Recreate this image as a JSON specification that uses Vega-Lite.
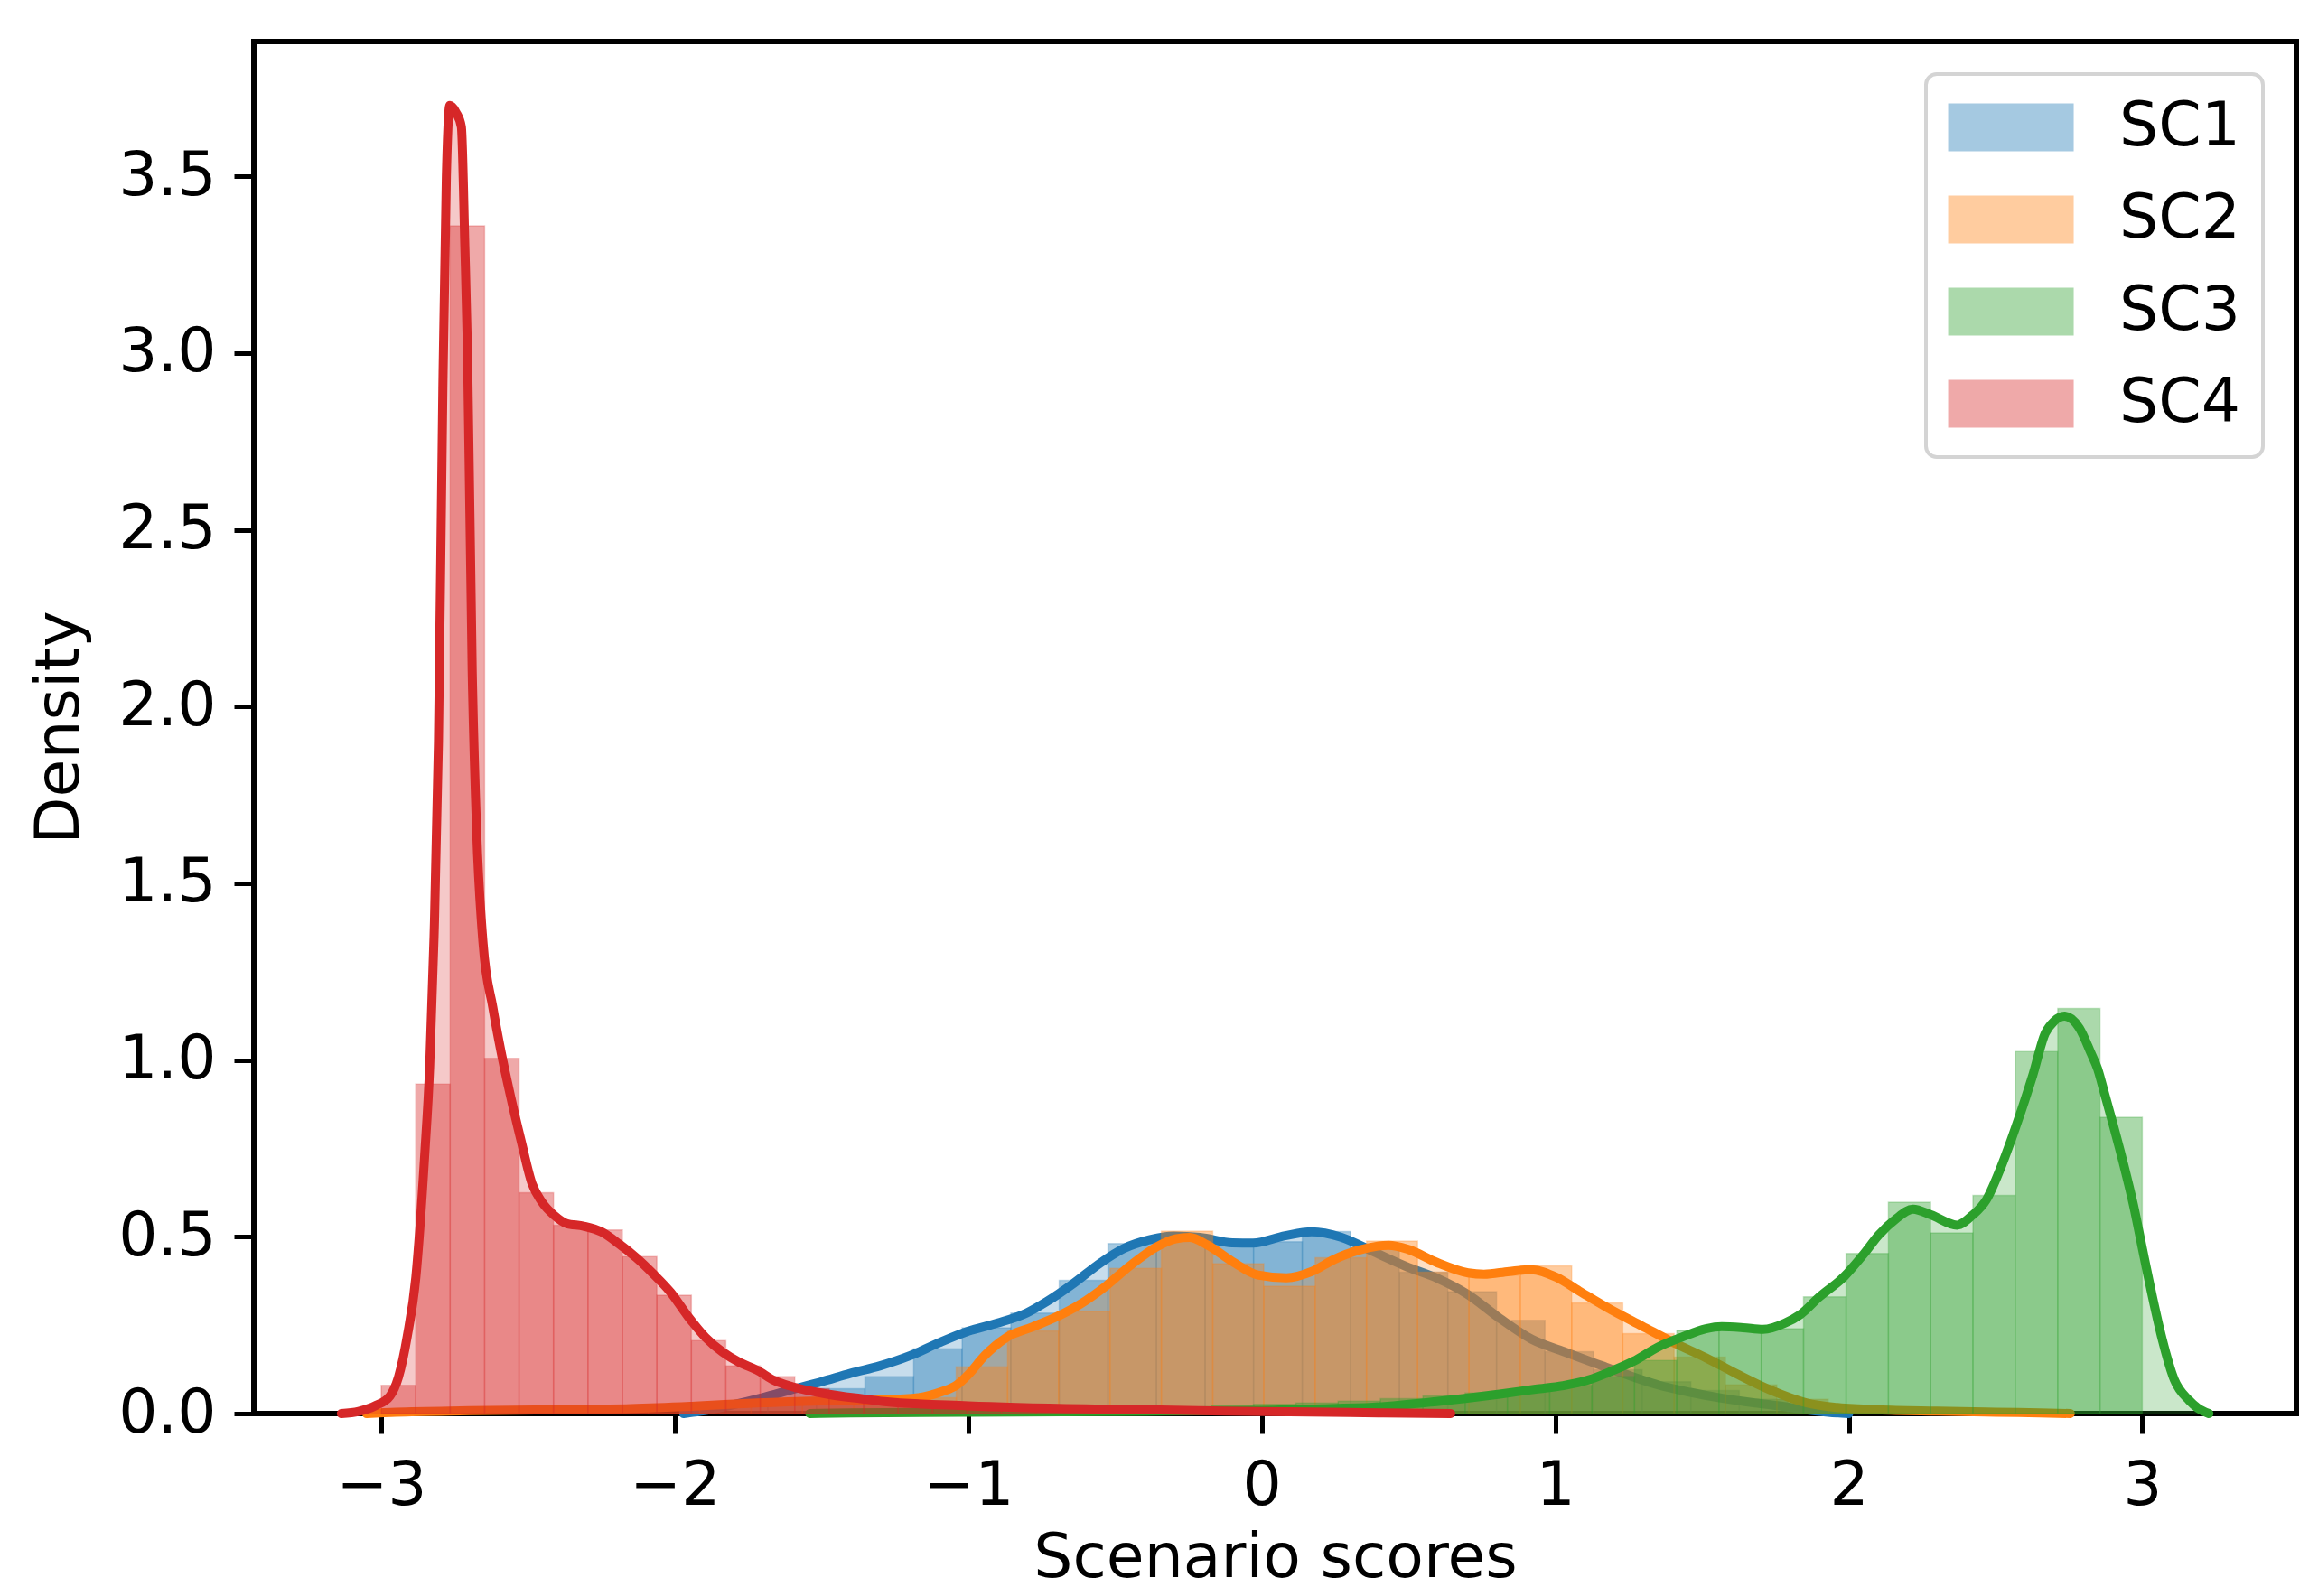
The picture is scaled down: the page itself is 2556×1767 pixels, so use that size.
{
  "$schema": "https://vega.github.io/schema/vega-lite/v6.json",
  "width": 2261,
  "height": 1519,
  "autosize": {"type": "none"},
  "padding": {"left": 281, "top": 46, "right": 14, "bottom": 202},
  "background": "white",
  "config": {
    "view": {"stroke": "black", "strokeWidth": 6},
    "axis": {"domain": false, "grid": false, "tickColor": "black", "tickWidth": 5, "tickSize": 22, "labelFont": "DejaVu Sans", "labelFontSize": 68, "labelColor": "black", "titleFont": "DejaVu Sans", "titleFontSize": 68, "titleFontWeight": "normal", "titleColor": "black"},
    "legend": {"labelFont": "DejaVu Sans", "labelFontSize": 68, "labelColor": "black", "symbolType": "M-1.3,-1H3.945V1H-1.3Z", "symbolSize": 2809, "symbolOpacity": 0.4, "symbolStrokeWidth": 0, "padding": 25, "rowPadding": 34, "labelOffset": 121, "strokeColor": "#d4d4d4", "strokeWidth": 4, "cornerRadius": 12, "fillColor": "white"}
  },
  "datasets": {
    "hist": [
      {"series": "SC1", "x0": -1.848, "x1": -1.683, "density": 0.02},
      {"series": "SC1", "x0": -1.683, "x1": -1.517, "density": 0.04},
      {"series": "SC1", "x0": -1.517, "x1": -1.352, "density": 0.07},
      {"series": "SC1", "x0": -1.352, "x1": -1.186, "density": 0.105},
      {"series": "SC1", "x0": -1.186, "x1": -1.021, "density": 0.183},
      {"series": "SC1", "x0": -1.021, "x1": -0.855, "density": 0.243},
      {"series": "SC1", "x0": -0.855, "x1": -0.69, "density": 0.284},
      {"series": "SC1", "x0": -0.69, "x1": -0.524, "density": 0.377},
      {"series": "SC1", "x0": -0.524, "x1": -0.359, "density": 0.481},
      {"series": "SC1", "x0": -0.359, "x1": -0.193, "density": 0.497},
      {"series": "SC1", "x0": -0.193, "x1": -0.028, "density": 0.484},
      {"series": "SC1", "x0": -0.028, "x1": 0.138, "density": 0.486},
      {"series": "SC1", "x0": 0.138, "x1": 0.303, "density": 0.515},
      {"series": "SC1", "x0": 0.303, "x1": 0.469, "density": 0.47},
      {"series": "SC1", "x0": 0.469, "x1": 0.634, "density": 0.4},
      {"series": "SC1", "x0": 0.634, "x1": 0.8, "density": 0.345},
      {"series": "SC1", "x0": 0.8, "x1": 0.965, "density": 0.264},
      {"series": "SC1", "x0": 0.965, "x1": 1.131, "density": 0.175},
      {"series": "SC1", "x0": 1.131, "x1": 1.296, "density": 0.124},
      {"series": "SC1", "x0": 1.296, "x1": 1.462, "density": 0.09},
      {"series": "SC1", "x0": 1.462, "x1": 1.627, "density": 0.065},
      {"series": "SC1", "x0": 1.627, "x1": 1.793, "density": 0.04},
      {"series": "SC1", "x0": 1.793, "x1": 1.958, "density": 0.02},

      {"series": "SC2", "x0": -2.964, "x1": -2.789, "density": 0.005},
      {"series": "SC2", "x0": -2.789, "x1": -2.614, "density": 0.008},
      {"series": "SC2", "x0": -2.614, "x1": -2.439, "density": 0.01},
      {"series": "SC2", "x0": -2.439, "x1": -2.264, "density": 0.012},
      {"series": "SC2", "x0": -2.264, "x1": -2.09, "density": 0.015},
      {"series": "SC2", "x0": -2.09, "x1": -1.915, "density": 0.018},
      {"series": "SC2", "x0": -1.915, "x1": -1.74, "density": 0.022},
      {"series": "SC2", "x0": -1.74, "x1": -1.565, "density": 0.027},
      {"series": "SC2", "x0": -1.565, "x1": -1.39, "density": 0.032},
      {"series": "SC2", "x0": -1.39, "x1": -1.216, "density": 0.036},
      {"series": "SC2", "x0": -1.216, "x1": -1.041, "density": 0.045},
      {"series": "SC2", "x0": -1.041, "x1": -0.866, "density": 0.132},
      {"series": "SC2", "x0": -0.866, "x1": -0.692, "density": 0.234},
      {"series": "SC2", "x0": -0.692, "x1": -0.517, "density": 0.288},
      {"series": "SC2", "x0": -0.517, "x1": -0.342, "density": 0.411},
      {"series": "SC2", "x0": -0.342, "x1": -0.167, "density": 0.516},
      {"series": "SC2", "x0": -0.167, "x1": 0.007, "density": 0.424},
      {"series": "SC2", "x0": 0.007, "x1": 0.182, "density": 0.36},
      {"series": "SC2", "x0": 0.182, "x1": 0.357, "density": 0.441},
      {"series": "SC2", "x0": 0.357, "x1": 0.531, "density": 0.488},
      {"series": "SC2", "x0": 0.531, "x1": 0.706, "density": 0.4},
      {"series": "SC2", "x0": 0.706, "x1": 0.881, "density": 0.39},
      {"series": "SC2", "x0": 0.881, "x1": 1.056, "density": 0.418},
      {"series": "SC2", "x0": 1.056, "x1": 1.23, "density": 0.313},
      {"series": "SC2", "x0": 1.23, "x1": 1.405, "density": 0.226},
      {"series": "SC2", "x0": 1.405, "x1": 1.58, "density": 0.16},
      {"series": "SC2", "x0": 1.58, "x1": 1.755, "density": 0.081},
      {"series": "SC2", "x0": 1.755, "x1": 1.93, "density": 0.04},
      {"series": "SC2", "x0": 1.93, "x1": 2.104, "density": 0.02},
      {"series": "SC2", "x0": 2.104, "x1": 2.279, "density": 0.012},
      {"series": "SC2", "x0": 2.279, "x1": 2.454, "density": 0.008},
      {"series": "SC2", "x0": 2.454, "x1": 2.629, "density": 0.005},

      {"series": "SC3", "x0": -1.326, "x1": -1.182, "density": 0.005},
      {"series": "SC3", "x0": -1.182, "x1": -1.038, "density": 0.005},
      {"series": "SC3", "x0": -1.038, "x1": -0.893, "density": 0.008},
      {"series": "SC3", "x0": -0.893, "x1": -0.749, "density": 0.008},
      {"series": "SC3", "x0": -0.749, "x1": -0.605, "density": 0.01},
      {"series": "SC3", "x0": -0.605, "x1": -0.461, "density": 0.012},
      {"series": "SC3", "x0": -0.461, "x1": -0.317, "density": 0.015},
      {"series": "SC3", "x0": -0.317, "x1": -0.172, "density": 0.018},
      {"series": "SC3", "x0": -0.172, "x1": -0.028, "density": 0.022},
      {"series": "SC3", "x0": -0.028, "x1": 0.116, "density": 0.026},
      {"series": "SC3", "x0": 0.116, "x1": 0.26, "density": 0.03},
      {"series": "SC3", "x0": 0.26, "x1": 0.404, "density": 0.035},
      {"series": "SC3", "x0": 0.404, "x1": 0.549, "density": 0.042},
      {"series": "SC3", "x0": 0.549, "x1": 0.693, "density": 0.05},
      {"series": "SC3", "x0": 0.693, "x1": 0.837, "density": 0.058},
      {"series": "SC3", "x0": 0.837, "x1": 0.981, "density": 0.068},
      {"series": "SC3", "x0": 0.981, "x1": 1.125, "density": 0.08},
      {"series": "SC3", "x0": 1.125, "x1": 1.27, "density": 0.105},
      {"series": "SC3", "x0": 1.27, "x1": 1.414, "density": 0.15},
      {"series": "SC3", "x0": 1.414, "x1": 1.558, "density": 0.235},
      {"series": "SC3", "x0": 1.558, "x1": 1.702, "density": 0.245},
      {"series": "SC3", "x0": 1.702, "x1": 1.846, "density": 0.24},
      {"series": "SC3", "x0": 1.846, "x1": 1.991, "density": 0.33},
      {"series": "SC3", "x0": 1.991, "x1": 2.135, "density": 0.453},
      {"series": "SC3", "x0": 2.135, "x1": 2.279, "density": 0.598},
      {"series": "SC3", "x0": 2.279, "x1": 2.423, "density": 0.511},
      {"series": "SC3", "x0": 2.423, "x1": 2.567, "density": 0.617},
      {"series": "SC3", "x0": 2.567, "x1": 2.712, "density": 1.024},
      {"series": "SC3", "x0": 2.712, "x1": 2.856, "density": 1.146},
      {"series": "SC3", "x0": 2.856, "x1": 3.0, "density": 0.838},

      {"series": "SC4", "x0": -3.0, "x1": -2.8826, "density": 0.08},
      {"series": "SC4", "x0": -2.8826, "x1": -2.7652, "density": 0.932},
      {"series": "SC4", "x0": -2.7652, "x1": -2.6478, "density": 3.36},
      {"series": "SC4", "x0": -2.6478, "x1": -2.5304, "density": 1.005},
      {"series": "SC4", "x0": -2.5304, "x1": -2.413, "density": 0.625},
      {"series": "SC4", "x0": -2.413, "x1": -2.2956, "density": 0.533},
      {"series": "SC4", "x0": -2.2956, "x1": -2.1782, "density": 0.519},
      {"series": "SC4", "x0": -2.1782, "x1": -2.0608, "density": 0.444},
      {"series": "SC4", "x0": -2.0608, "x1": -1.9434, "density": 0.335},
      {"series": "SC4", "x0": -1.9434, "x1": -1.826, "density": 0.206},
      {"series": "SC4", "x0": -1.826, "x1": -1.7086, "density": 0.135},
      {"series": "SC4", "x0": -1.7086, "x1": -1.5912, "density": 0.105},
      {"series": "SC4", "x0": -1.5912, "x1": -1.4738, "density": 0.07},
      {"series": "SC4", "x0": -1.4738, "x1": -1.3564, "density": 0.05},
      {"series": "SC4", "x0": -1.3564, "x1": -1.239, "density": 0.042},
      {"series": "SC4", "x0": -1.239, "x1": -1.1216, "density": 0.035},
      {"series": "SC4", "x0": -1.1216, "x1": -1.0042, "density": 0.03},
      {"series": "SC4", "x0": -1.0042, "x1": -0.8868, "density": 0.025},
      {"series": "SC4", "x0": -0.8868, "x1": -0.7694, "density": 0.02},
      {"series": "SC4", "x0": -0.7694, "x1": -0.652, "density": 0.017},
      {"series": "SC4", "x0": -0.652, "x1": -0.5346, "density": 0.014},
      {"series": "SC4", "x0": -0.5346, "x1": -0.4172, "density": 0.012},
      {"series": "SC4", "x0": -0.4172, "x1": -0.2998, "density": 0.01},
      {"series": "SC4", "x0": -0.2998, "x1": -0.1824, "density": 0.008},
      {"series": "SC4", "x0": -0.1824, "x1": -0.065, "density": 0.007},
      {"series": "SC4", "x0": -0.065, "x1": 0.0524, "density": 0.006},
      {"series": "SC4", "x0": 0.0524, "x1": 0.1698, "density": 0.005},
      {"series": "SC4", "x0": 0.1698, "x1": 0.2872, "density": 0.004},
      {"series": "SC4", "x0": 0.2872, "x1": 0.4046, "density": 0.003},
      {"series": "SC4", "x0": 0.4046, "x1": 0.522, "density": 0.002}
    ],
    "kde": [
      {"series": "SC1", "x": -1.97, "y": 0.0},
      {"series": "SC1", "x": -1.9, "y": 0.008},
      {"series": "SC1", "x": -1.8, "y": 0.025},
      {"series": "SC1", "x": -1.7, "y": 0.045},
      {"series": "SC1", "x": -1.6, "y": 0.068},
      {"series": "SC1", "x": -1.5, "y": 0.09},
      {"series": "SC1", "x": -1.4, "y": 0.114},
      {"series": "SC1", "x": -1.3, "y": 0.135},
      {"series": "SC1", "x": -1.2, "y": 0.163},
      {"series": "SC1", "x": -1.1, "y": 0.2},
      {"series": "SC1", "x": -1.0, "y": 0.233},
      {"series": "SC1", "x": -0.9, "y": 0.256},
      {"series": "SC1", "x": -0.8, "y": 0.285},
      {"series": "SC1", "x": -0.73, "y": 0.318},
      {"series": "SC1", "x": -0.64, "y": 0.369},
      {"series": "SC1", "x": -0.55, "y": 0.426},
      {"series": "SC1", "x": -0.47, "y": 0.467},
      {"series": "SC1", "x": -0.38, "y": 0.492},
      {"series": "SC1", "x": -0.3, "y": 0.502},
      {"series": "SC1", "x": -0.21, "y": 0.498},
      {"series": "SC1", "x": -0.1, "y": 0.483},
      {"series": "SC1", "x": -0.03, "y": 0.482},
      {"series": "SC1", "x": 0.08, "y": 0.503},
      {"series": "SC1", "x": 0.17, "y": 0.514},
      {"series": "SC1", "x": 0.27, "y": 0.499},
      {"series": "SC1", "x": 0.38, "y": 0.458},
      {"series": "SC1", "x": 0.49, "y": 0.417},
      {"series": "SC1", "x": 0.6, "y": 0.382},
      {"series": "SC1", "x": 0.7, "y": 0.338},
      {"series": "SC1", "x": 0.81, "y": 0.27},
      {"series": "SC1", "x": 0.92, "y": 0.21},
      {"series": "SC1", "x": 1.03, "y": 0.175},
      {"series": "SC1", "x": 1.14, "y": 0.141},
      {"series": "SC1", "x": 1.24, "y": 0.111},
      {"series": "SC1", "x": 1.35, "y": 0.081},
      {"series": "SC1", "x": 1.46, "y": 0.06},
      {"series": "SC1", "x": 1.57, "y": 0.043},
      {"series": "SC1", "x": 1.68, "y": 0.03},
      {"series": "SC1", "x": 1.78, "y": 0.02},
      {"series": "SC1", "x": 1.86, "y": 0.01},
      {"series": "SC1", "x": 1.93, "y": 0.004},
      {"series": "SC1", "x": 2.0, "y": 0.0},

      {"series": "SC2", "x": -3.05, "y": 0.0},
      {"series": "SC2", "x": -2.95, "y": 0.004},
      {"series": "SC2", "x": -2.7, "y": 0.008},
      {"series": "SC2", "x": -2.4, "y": 0.011},
      {"series": "SC2", "x": -2.15, "y": 0.014},
      {"series": "SC2", "x": -1.93, "y": 0.021},
      {"series": "SC2", "x": -1.72, "y": 0.03},
      {"series": "SC2", "x": -1.5, "y": 0.036},
      {"series": "SC2", "x": -1.28, "y": 0.039},
      {"series": "SC2", "x": -1.17, "y": 0.045},
      {"series": "SC2", "x": -1.09, "y": 0.062},
      {"series": "SC2", "x": -1.04, "y": 0.08},
      {"series": "SC2", "x": -1.0, "y": 0.11},
      {"series": "SC2", "x": -0.944, "y": 0.164},
      {"series": "SC2", "x": -0.868, "y": 0.216},
      {"series": "SC2", "x": -0.781, "y": 0.245},
      {"series": "SC2", "x": -0.695, "y": 0.275},
      {"series": "SC2", "x": -0.619, "y": 0.309},
      {"series": "SC2", "x": -0.532, "y": 0.36},
      {"series": "SC2", "x": -0.446, "y": 0.42},
      {"series": "SC2", "x": -0.359, "y": 0.471},
      {"series": "SC2", "x": -0.294, "y": 0.494},
      {"series": "SC2", "x": -0.246, "y": 0.498},
      {"series": "SC2", "x": -0.186, "y": 0.477},
      {"series": "SC2", "x": -0.1, "y": 0.43},
      {"series": "SC2", "x": -0.013, "y": 0.392},
      {"series": "SC2", "x": 0.084, "y": 0.384},
      {"series": "SC2", "x": 0.171, "y": 0.402},
      {"series": "SC2", "x": 0.247, "y": 0.436},
      {"series": "SC2", "x": 0.33, "y": 0.462},
      {"series": "SC2", "x": 0.433, "y": 0.476},
      {"series": "SC2", "x": 0.5, "y": 0.464},
      {"series": "SC2", "x": 0.595, "y": 0.428},
      {"series": "SC2", "x": 0.703, "y": 0.398},
      {"series": "SC2", "x": 0.757, "y": 0.394},
      {"series": "SC2", "x": 0.843, "y": 0.402},
      {"series": "SC2", "x": 0.919, "y": 0.407},
      {"series": "SC2", "x": 1.005, "y": 0.385},
      {"series": "SC2", "x": 1.081, "y": 0.347},
      {"series": "SC2", "x": 1.189, "y": 0.294},
      {"series": "SC2", "x": 1.297, "y": 0.247},
      {"series": "SC2", "x": 1.405, "y": 0.2},
      {"series": "SC2", "x": 1.513, "y": 0.158},
      {"series": "SC2", "x": 1.621, "y": 0.111},
      {"series": "SC2", "x": 1.729, "y": 0.068},
      {"series": "SC2", "x": 1.857, "y": 0.03},
      {"series": "SC2", "x": 1.95, "y": 0.018},
      {"series": "SC2", "x": 2.1, "y": 0.011},
      {"series": "SC2", "x": 2.3, "y": 0.007},
      {"series": "SC2", "x": 2.5, "y": 0.004},
      {"series": "SC2", "x": 2.65, "y": 0.002},
      {"series": "SC2", "x": 2.755, "y": 0.0},

      {"series": "SC3", "x": -1.54, "y": 0.0},
      {"series": "SC3", "x": -1.4, "y": 0.002},
      {"series": "SC3", "x": -1.0, "y": 0.004},
      {"series": "SC3", "x": -0.5, "y": 0.006},
      {"series": "SC3", "x": 0.0, "y": 0.009},
      {"series": "SC3", "x": 0.163, "y": 0.013},
      {"series": "SC3", "x": 0.379, "y": 0.018},
      {"series": "SC3", "x": 0.595, "y": 0.034},
      {"series": "SC3", "x": 0.811, "y": 0.055},
      {"series": "SC3", "x": 0.933, "y": 0.069},
      {"series": "SC3", "x": 1.027, "y": 0.079},
      {"series": "SC3", "x": 1.113, "y": 0.095},
      {"series": "SC3", "x": 1.189, "y": 0.119},
      {"series": "SC3", "x": 1.267, "y": 0.148},
      {"series": "SC3", "x": 1.35, "y": 0.188},
      {"series": "SC3", "x": 1.434, "y": 0.217},
      {"series": "SC3", "x": 1.513, "y": 0.24},
      {"series": "SC3", "x": 1.567, "y": 0.246},
      {"series": "SC3", "x": 1.64, "y": 0.243},
      {"series": "SC3", "x": 1.708, "y": 0.238},
      {"series": "SC3", "x": 1.783, "y": 0.256},
      {"series": "SC3", "x": 1.835, "y": 0.28},
      {"series": "SC3", "x": 1.9, "y": 0.33},
      {"series": "SC3", "x": 1.985, "y": 0.388},
      {"series": "SC3", "x": 2.05, "y": 0.45},
      {"series": "SC3", "x": 2.102, "y": 0.505},
      {"series": "SC3", "x": 2.16, "y": 0.55},
      {"series": "SC3", "x": 2.219, "y": 0.578},
      {"series": "SC3", "x": 2.28, "y": 0.562},
      {"series": "SC3", "x": 2.369, "y": 0.533},
      {"series": "SC3", "x": 2.42, "y": 0.56},
      {"series": "SC3", "x": 2.469, "y": 0.605},
      {"series": "SC3", "x": 2.52, "y": 0.7},
      {"series": "SC3", "x": 2.569, "y": 0.811},
      {"series": "SC3", "x": 2.627, "y": 0.957},
      {"series": "SC3", "x": 2.669, "y": 1.075},
      {"series": "SC3", "x": 2.7, "y": 1.11},
      {"series": "SC3", "x": 2.735, "y": 1.124},
      {"series": "SC3", "x": 2.786, "y": 1.09},
      {"series": "SC3", "x": 2.825, "y": 1.02},
      {"series": "SC3", "x": 2.848, "y": 0.975},
      {"series": "SC3", "x": 2.87, "y": 0.91},
      {"series": "SC3", "x": 2.9, "y": 0.82},
      {"series": "SC3", "x": 2.935, "y": 0.71},
      {"series": "SC3", "x": 2.97, "y": 0.59},
      {"series": "SC3", "x": 3.007, "y": 0.44},
      {"series": "SC3", "x": 3.04, "y": 0.31},
      {"series": "SC3", "x": 3.068, "y": 0.21},
      {"series": "SC3", "x": 3.109, "y": 0.096},
      {"series": "SC3", "x": 3.16, "y": 0.037},
      {"series": "SC3", "x": 3.19, "y": 0.015},
      {"series": "SC3", "x": 3.227, "y": 0.0},

      {"series": "SC4", "x": -3.136, "y": 0.0},
      {"series": "SC4", "x": -3.077, "y": 0.006},
      {"series": "SC4", "x": -3.018, "y": 0.023},
      {"series": "SC4", "x": -2.97, "y": 0.05},
      {"series": "SC4", "x": -2.941, "y": 0.104},
      {"series": "SC4", "x": -2.911, "y": 0.22},
      {"series": "SC4", "x": -2.882, "y": 0.386},
      {"series": "SC4", "x": -2.852, "y": 0.73},
      {"series": "SC4", "x": -2.835, "y": 0.98},
      {"series": "SC4", "x": -2.82, "y": 1.35},
      {"series": "SC4", "x": -2.805, "y": 1.9},
      {"series": "SC4", "x": -2.79, "y": 2.9},
      {"series": "SC4", "x": -2.778, "y": 3.5},
      {"series": "SC4", "x": -2.766, "y": 3.7},
      {"series": "SC4", "x": -2.745, "y": 3.68},
      {"series": "SC4", "x": -2.727, "y": 3.64},
      {"series": "SC4", "x": -2.715, "y": 3.3},
      {"series": "SC4", "x": -2.706, "y": 3.0},
      {"series": "SC4", "x": -2.69, "y": 2.1},
      {"series": "SC4", "x": -2.675, "y": 1.65},
      {"series": "SC4", "x": -2.653, "y": 1.33},
      {"series": "SC4", "x": -2.62, "y": 1.15},
      {"series": "SC4", "x": -2.591, "y": 1.02},
      {"series": "SC4", "x": -2.56, "y": 0.9},
      {"series": "SC4", "x": -2.523, "y": 0.77},
      {"series": "SC4", "x": -2.486, "y": 0.65},
      {"series": "SC4", "x": -2.454, "y": 0.6},
      {"series": "SC4", "x": -2.41, "y": 0.56},
      {"series": "SC4", "x": -2.37, "y": 0.538},
      {"series": "SC4", "x": -2.31, "y": 0.53},
      {"series": "SC4", "x": -2.25, "y": 0.514},
      {"series": "SC4", "x": -2.19, "y": 0.48},
      {"series": "SC4", "x": -2.13, "y": 0.44},
      {"series": "SC4", "x": -2.073, "y": 0.395},
      {"series": "SC4", "x": -2.014, "y": 0.343},
      {"series": "SC4", "x": -1.955, "y": 0.275},
      {"series": "SC4", "x": -1.896, "y": 0.216},
      {"series": "SC4", "x": -1.837, "y": 0.174},
      {"series": "SC4", "x": -1.78, "y": 0.145},
      {"series": "SC4", "x": -1.72, "y": 0.123},
      {"series": "SC4", "x": -1.66, "y": 0.093},
      {"series": "SC4", "x": -1.6, "y": 0.076},
      {"series": "SC4", "x": -1.48, "y": 0.055},
      {"series": "SC4", "x": -1.365, "y": 0.042},
      {"series": "SC4", "x": -1.285, "y": 0.034},
      {"series": "SC4", "x": -1.0, "y": 0.022},
      {"series": "SC4", "x": -0.5, "y": 0.012},
      {"series": "SC4", "x": 0.0, "y": 0.006},
      {"series": "SC4", "x": 0.3, "y": 0.003},
      {"series": "SC4", "x": 0.644, "y": 0.0}
    ]
  },
  "layer": [
    {
      "data": {"name": "hist"},
      "transform": [{"filter": "datum.series === 'SC1'"}],
      "mark": {"type": "rect", "fillOpacity": 0.4, "stroke": "#1f77b4", "strokeOpacity": 0.25, "strokeWidth": 1.5},
      "encoding": {
        "x": {"field": "x0", "type": "quantitative", "scale": {"domain": [-3.434, 3.525], "nice": false, "zero": false}, "axis": {"values": [-3, -2, -1, 0, 1, 2, 3], "format": "d", "title": "Scenario scores", "labelPadding": 24, "titleY": 180, "titleBaseline": "alphabetic"}},
        "x2": {"field": "x1"},
        "y": {"field": "density", "type": "quantitative", "scale": {"domain": [0, 3.881], "nice": false}, "axis": {"values": [0, 0.5, 1, 1.5, 2, 2.5, 3, 3.5], "format": ".1f", "title": "Density", "labelPadding": 20, "titleX": -195, "titleY": 759, "titleBaseline": "alphabetic"}},
        "y2": {"datum": 0},
        "color": {"field": "series", "type": "nominal", "scale": {"domain": ["SC1", "SC2", "SC3", "SC4"], "range": ["#1f77b4", "#ff7f0e", "#2ca02c", "#d62728"]}, "legend": {"orient": "none", "legendX": 1851, "legendY": 36, "title": null}}
      }
    },
    {
      "data": {"name": "kde"},
      "transform": [{"filter": "datum.series === 'SC1'"}],
      "mark": {"type": "area", "color": "#1f77b4", "opacity": 0.25, "interpolate": "monotone"},
      "encoding": {
        "x": {"field": "x", "type": "quantitative", "scale": {"domain": [-3.434, 3.525], "nice": false, "zero": false}, "axis": {"values": [-3, -2, -1, 0, 1, 2, 3], "format": "d", "title": "Scenario scores", "labelPadding": 24, "titleY": 180, "titleBaseline": "alphabetic"}},
        "y": {"field": "y", "type": "quantitative", "scale": {"domain": [0, 3.881], "nice": false}, "axis": {"values": [0, 0.5, 1, 1.5, 2, 2.5, 3, 3.5], "format": ".1f", "title": "Density", "labelPadding": 20, "titleX": -195, "titleY": 759, "titleBaseline": "alphabetic"}, "stack": null}
      }
    },
    {
      "data": {"name": "kde"},
      "transform": [{"filter": "datum.series === 'SC1'"}],
      "mark": {"type": "line", "color": "#1f77b4", "strokeWidth": 10, "strokeJoin": "round", "strokeCap": "round", "interpolate": "monotone"},
      "encoding": {
        "x": {"field": "x", "type": "quantitative", "scale": {"domain": [-3.434, 3.525], "nice": false, "zero": false}, "axis": {"values": [-3, -2, -1, 0, 1, 2, 3], "format": "d", "title": "Scenario scores", "labelPadding": 24, "titleY": 180, "titleBaseline": "alphabetic"}},
        "y": {"field": "y", "type": "quantitative", "scale": {"domain": [0, 3.881], "nice": false}, "axis": {"values": [0, 0.5, 1, 1.5, 2, 2.5, 3, 3.5], "format": ".1f", "title": "Density", "labelPadding": 20, "titleX": -195, "titleY": 759, "titleBaseline": "alphabetic"}}
      }
    },
    {
      "data": {"name": "hist"},
      "transform": [{"filter": "datum.series === 'SC2'"}],
      "mark": {"type": "rect", "fillOpacity": 0.4, "stroke": "#ff7f0e", "strokeOpacity": 0.25, "strokeWidth": 1.5},
      "encoding": {
        "x": {"field": "x0", "type": "quantitative", "scale": {"domain": [-3.434, 3.525], "nice": false, "zero": false}, "axis": {"values": [-3, -2, -1, 0, 1, 2, 3], "format": "d", "title": "Scenario scores", "labelPadding": 24, "titleY": 180, "titleBaseline": "alphabetic"}},
        "x2": {"field": "x1"},
        "y": {"field": "density", "type": "quantitative", "scale": {"domain": [0, 3.881], "nice": false}, "axis": {"values": [0, 0.5, 1, 1.5, 2, 2.5, 3, 3.5], "format": ".1f", "title": "Density", "labelPadding": 20, "titleX": -195, "titleY": 759, "titleBaseline": "alphabetic"}},
        "y2": {"datum": 0},
        "color": {"field": "series", "type": "nominal", "scale": {"domain": ["SC1", "SC2", "SC3", "SC4"], "range": ["#1f77b4", "#ff7f0e", "#2ca02c", "#d62728"]}, "legend": {"orient": "none", "legendX": 1851, "legendY": 36, "title": null}}
      }
    },
    {
      "data": {"name": "kde"},
      "transform": [{"filter": "datum.series === 'SC2'"}],
      "mark": {"type": "area", "color": "#ff7f0e", "opacity": 0.25, "interpolate": "monotone"},
      "encoding": {
        "x": {"field": "x", "type": "quantitative", "scale": {"domain": [-3.434, 3.525], "nice": false, "zero": false}, "axis": {"values": [-3, -2, -1, 0, 1, 2, 3], "format": "d", "title": "Scenario scores", "labelPadding": 24, "titleY": 180, "titleBaseline": "alphabetic"}},
        "y": {"field": "y", "type": "quantitative", "scale": {"domain": [0, 3.881], "nice": false}, "axis": {"values": [0, 0.5, 1, 1.5, 2, 2.5, 3, 3.5], "format": ".1f", "title": "Density", "labelPadding": 20, "titleX": -195, "titleY": 759, "titleBaseline": "alphabetic"}, "stack": null}
      }
    },
    {
      "data": {"name": "kde"},
      "transform": [{"filter": "datum.series === 'SC2'"}],
      "mark": {"type": "line", "color": "#ff7f0e", "strokeWidth": 10, "strokeJoin": "round", "strokeCap": "round", "interpolate": "monotone"},
      "encoding": {
        "x": {"field": "x", "type": "quantitative", "scale": {"domain": [-3.434, 3.525], "nice": false, "zero": false}, "axis": {"values": [-3, -2, -1, 0, 1, 2, 3], "format": "d", "title": "Scenario scores", "labelPadding": 24, "titleY": 180, "titleBaseline": "alphabetic"}},
        "y": {"field": "y", "type": "quantitative", "scale": {"domain": [0, 3.881], "nice": false}, "axis": {"values": [0, 0.5, 1, 1.5, 2, 2.5, 3, 3.5], "format": ".1f", "title": "Density", "labelPadding": 20, "titleX": -195, "titleY": 759, "titleBaseline": "alphabetic"}}
      }
    },
    {
      "data": {"name": "hist"},
      "transform": [{"filter": "datum.series === 'SC3'"}],
      "mark": {"type": "rect", "fillOpacity": 0.4, "stroke": "#2ca02c", "strokeOpacity": 0.25, "strokeWidth": 1.5},
      "encoding": {
        "x": {"field": "x0", "type": "quantitative", "scale": {"domain": [-3.434, 3.525], "nice": false, "zero": false}, "axis": {"values": [-3, -2, -1, 0, 1, 2, 3], "format": "d", "title": "Scenario scores", "labelPadding": 24, "titleY": 180, "titleBaseline": "alphabetic"}},
        "x2": {"field": "x1"},
        "y": {"field": "density", "type": "quantitative", "scale": {"domain": [0, 3.881], "nice": false}, "axis": {"values": [0, 0.5, 1, 1.5, 2, 2.5, 3, 3.5], "format": ".1f", "title": "Density", "labelPadding": 20, "titleX": -195, "titleY": 759, "titleBaseline": "alphabetic"}},
        "y2": {"datum": 0},
        "color": {"field": "series", "type": "nominal", "scale": {"domain": ["SC1", "SC2", "SC3", "SC4"], "range": ["#1f77b4", "#ff7f0e", "#2ca02c", "#d62728"]}, "legend": {"orient": "none", "legendX": 1851, "legendY": 36, "title": null}}
      }
    },
    {
      "data": {"name": "kde"},
      "transform": [{"filter": "datum.series === 'SC3'"}],
      "mark": {"type": "area", "color": "#2ca02c", "opacity": 0.25, "interpolate": "monotone"},
      "encoding": {
        "x": {"field": "x", "type": "quantitative", "scale": {"domain": [-3.434, 3.525], "nice": false, "zero": false}, "axis": {"values": [-3, -2, -1, 0, 1, 2, 3], "format": "d", "title": "Scenario scores", "labelPadding": 24, "titleY": 180, "titleBaseline": "alphabetic"}},
        "y": {"field": "y", "type": "quantitative", "scale": {"domain": [0, 3.881], "nice": false}, "axis": {"values": [0, 0.5, 1, 1.5, 2, 2.5, 3, 3.5], "format": ".1f", "title": "Density", "labelPadding": 20, "titleX": -195, "titleY": 759, "titleBaseline": "alphabetic"}, "stack": null}
      }
    },
    {
      "data": {"name": "kde"},
      "transform": [{"filter": "datum.series === 'SC3'"}],
      "mark": {"type": "line", "color": "#2ca02c", "strokeWidth": 10, "strokeJoin": "round", "strokeCap": "round", "interpolate": "monotone"},
      "encoding": {
        "x": {"field": "x", "type": "quantitative", "scale": {"domain": [-3.434, 3.525], "nice": false, "zero": false}, "axis": {"values": [-3, -2, -1, 0, 1, 2, 3], "format": "d", "title": "Scenario scores", "labelPadding": 24, "titleY": 180, "titleBaseline": "alphabetic"}},
        "y": {"field": "y", "type": "quantitative", "scale": {"domain": [0, 3.881], "nice": false}, "axis": {"values": [0, 0.5, 1, 1.5, 2, 2.5, 3, 3.5], "format": ".1f", "title": "Density", "labelPadding": 20, "titleX": -195, "titleY": 759, "titleBaseline": "alphabetic"}}
      }
    },
    {
      "data": {"name": "hist"},
      "transform": [{"filter": "datum.series === 'SC4'"}],
      "mark": {"type": "rect", "fillOpacity": 0.4, "stroke": "#d62728", "strokeOpacity": 0.25, "strokeWidth": 1.5},
      "encoding": {
        "x": {"field": "x0", "type": "quantitative", "scale": {"domain": [-3.434, 3.525], "nice": false, "zero": false}, "axis": {"values": [-3, -2, -1, 0, 1, 2, 3], "format": "d", "title": "Scenario scores", "labelPadding": 24, "titleY": 180, "titleBaseline": "alphabetic"}},
        "x2": {"field": "x1"},
        "y": {"field": "density", "type": "quantitative", "scale": {"domain": [0, 3.881], "nice": false}, "axis": {"values": [0, 0.5, 1, 1.5, 2, 2.5, 3, 3.5], "format": ".1f", "title": "Density", "labelPadding": 20, "titleX": -195, "titleY": 759, "titleBaseline": "alphabetic"}},
        "y2": {"datum": 0},
        "color": {"field": "series", "type": "nominal", "scale": {"domain": ["SC1", "SC2", "SC3", "SC4"], "range": ["#1f77b4", "#ff7f0e", "#2ca02c", "#d62728"]}, "legend": {"orient": "none", "legendX": 1851, "legendY": 36, "title": null}}
      }
    },
    {
      "data": {"name": "kde"},
      "transform": [{"filter": "datum.series === 'SC4'"}],
      "mark": {"type": "area", "color": "#d62728", "opacity": 0.25, "interpolate": "monotone"},
      "encoding": {
        "x": {"field": "x", "type": "quantitative", "scale": {"domain": [-3.434, 3.525], "nice": false, "zero": false}, "axis": {"values": [-3, -2, -1, 0, 1, 2, 3], "format": "d", "title": "Scenario scores", "labelPadding": 24, "titleY": 180, "titleBaseline": "alphabetic"}},
        "y": {"field": "y", "type": "quantitative", "scale": {"domain": [0, 3.881], "nice": false}, "axis": {"values": [0, 0.5, 1, 1.5, 2, 2.5, 3, 3.5], "format": ".1f", "title": "Density", "labelPadding": 20, "titleX": -195, "titleY": 759, "titleBaseline": "alphabetic"}, "stack": null}
      }
    },
    {
      "data": {"name": "kde"},
      "transform": [{"filter": "datum.series === 'SC4'"}],
      "mark": {"type": "line", "color": "#d62728", "strokeWidth": 10, "strokeJoin": "round", "strokeCap": "round", "interpolate": "monotone"},
      "encoding": {
        "x": {"field": "x", "type": "quantitative", "scale": {"domain": [-3.434, 3.525], "nice": false, "zero": false}, "axis": {"values": [-3, -2, -1, 0, 1, 2, 3], "format": "d", "title": "Scenario scores", "labelPadding": 24, "titleY": 180, "titleBaseline": "alphabetic"}},
        "y": {"field": "y", "type": "quantitative", "scale": {"domain": [0, 3.881], "nice": false}, "axis": {"values": [0, 0.5, 1, 1.5, 2, 2.5, 3, 3.5], "format": ".1f", "title": "Density", "labelPadding": 20, "titleX": -195, "titleY": 759, "titleBaseline": "alphabetic"}}
      }
    }
  ]
}
